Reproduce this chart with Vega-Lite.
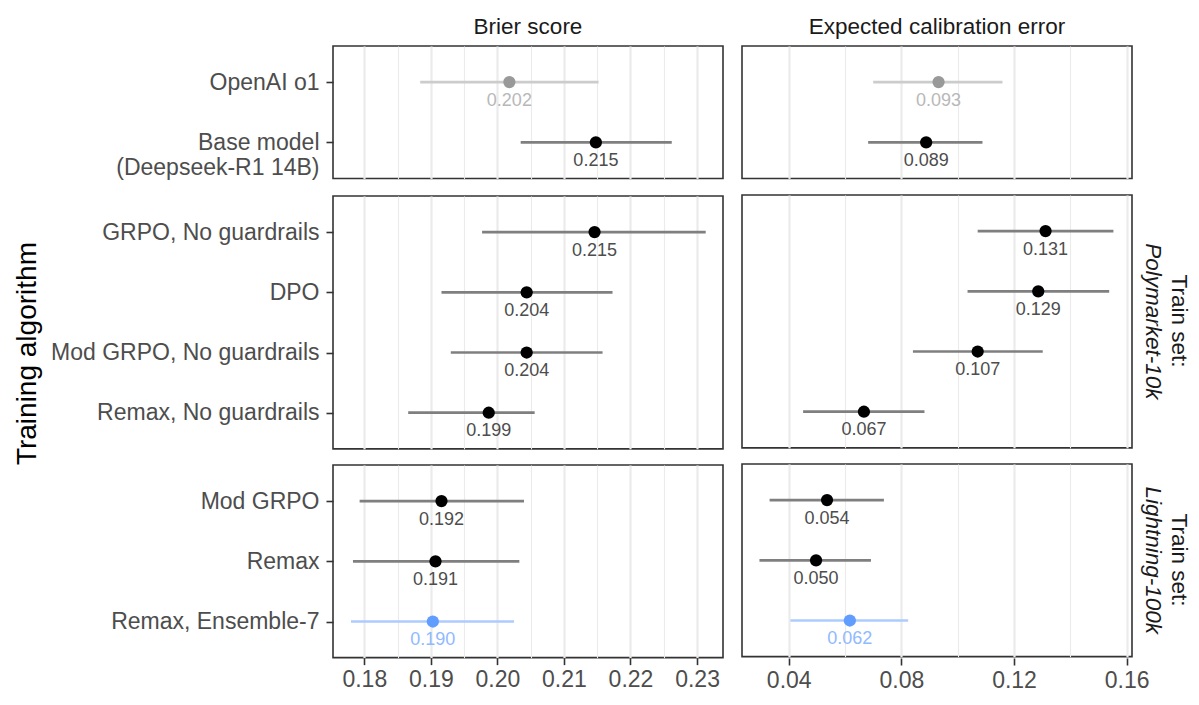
{
  "$schema": "https://vega.github.io/schema/vega-lite/v6.json",
  "background": "white",
  "padding": {"left": 14, "top": 14, "right": 5, "bottom": 5},
  "title": {"text": "Training algorithm", "orient": "left", "anchor": "middle", "fontSize": 28, "fontWeight": "normal", "color": "#000000", "offset": 6},
  "datasets": {
    "d": [
      {"set": "none", "algo": "OpenAI o1", "metric": "brier", "val": 0.2018, "lo": 0.1884, "hi": 0.2152, "grp": "o1"},
      {"set": "none", "algo": "Base model\n(Deepseek-R1 14B)", "metric": "brier", "val": 0.2148, "lo": 0.2035, "hi": 0.2262, "grp": "std"},
      {"set": "Polymarket-10k", "algo": "GRPO, No guardrails", "metric": "brier", "val": 0.2146, "lo": 0.1977, "hi": 0.2313, "grp": "std"},
      {"set": "Polymarket-10k", "algo": "DPO", "metric": "brier", "val": 0.2044, "lo": 0.1916, "hi": 0.2173, "grp": "std"},
      {"set": "Polymarket-10k", "algo": "Mod GRPO, No guardrails", "metric": "brier", "val": 0.2044, "lo": 0.193, "hi": 0.2158, "grp": "std"},
      {"set": "Polymarket-10k", "algo": "Remax, No guardrails", "metric": "brier", "val": 0.1987, "lo": 0.1866, "hi": 0.2056, "grp": "std"},
      {"set": "Lightning-100k", "algo": "Mod GRPO", "metric": "brier", "val": 0.1916, "lo": 0.1793, "hi": 0.204, "grp": "std"},
      {"set": "Lightning-100k", "algo": "Remax", "metric": "brier", "val": 0.1907, "lo": 0.1783, "hi": 0.2033, "grp": "std"},
      {"set": "Lightning-100k", "algo": "Remax, Ensemble-7", "metric": "brier", "val": 0.1903, "lo": 0.178, "hi": 0.2025, "grp": "ens"},
      {"set": "none", "algo": "OpenAI o1", "metric": "ece", "val": 0.0932, "lo": 0.07, "hi": 0.1159, "grp": "o1"},
      {"set": "none", "algo": "Base model\n(Deepseek-R1 14B)", "metric": "ece", "val": 0.0888, "lo": 0.0682, "hi": 0.1088, "grp": "std"},
      {"set": "Polymarket-10k", "algo": "GRPO, No guardrails", "metric": "ece", "val": 0.1312, "lo": 0.1071, "hi": 0.1553, "grp": "std"},
      {"set": "Polymarket-10k", "algo": "DPO", "metric": "ece", "val": 0.1286, "lo": 0.1035, "hi": 0.1538, "grp": "std"},
      {"set": "Polymarket-10k", "algo": "Mod GRPO, No guardrails", "metric": "ece", "val": 0.1071, "lo": 0.0841, "hi": 0.1302, "grp": "std"},
      {"set": "Polymarket-10k", "algo": "Remax, No guardrails", "metric": "ece", "val": 0.0667, "lo": 0.0451, "hi": 0.0882, "grp": "std"},
      {"set": "Lightning-100k", "algo": "Mod GRPO", "metric": "ece", "val": 0.0536, "lo": 0.0332, "hi": 0.0738, "grp": "std"},
      {"set": "Lightning-100k", "algo": "Remax", "metric": "ece", "val": 0.0497, "lo": 0.0296, "hi": 0.0692, "grp": "std"},
      {"set": "Lightning-100k", "algo": "Remax, Ensemble-7", "metric": "ece", "val": 0.0617, "lo": 0.0406, "hi": 0.0824, "grp": "ens"}
    ]
  },
  "hconcat": [
    {
      "vconcat": [
        {
          "data": {"name": "d"},
          "transform": [{"filter": "datum.metric === 'brier' && datum.set === 'none'"}],
          "title": {"text": "Brier score", "fontSize": 22.5, "fontWeight": "normal", "color": "#1A1A1A", "frame": "group", "anchor": "middle", "offset": 8},
          "width": 390,
          "height": {"step": 60.2},
          "encoding": {
            "y": {"field": "algo", "type": "nominal", "sort": null, "scale": {"type": "point", "padding": 0.6}, "axis": {"title": null, "minExtent": 284, "maxExtent": 284, "labelExpr": "split(datum.label, '\\n')", "labelLineHeight": 25, "labelPadding": 7, "grid": false, "labelLimit": 400}},
            "x": {"field": "val", "type": "quantitative", "title": null, "scale": {"domain": [0.1753, 0.2339], "nice": false, "zero": false}, "axis": {"values": [0.18, 0.185, 0.19, 0.195, 0.2, 0.205, 0.21, 0.215, 0.22, 0.225, 0.23], "labels": false, "ticks": false, "domain": false, "grid": true, "gridColor": "#EBEBEB", "gridWidth": {"condition": {"test": "abs(datum.value*100 - round(datum.value*100)) < 0.01", "value": 2.2}, "value": 1.1}, "title": null}}
          },
          "layer": [
            {"mark": {"type": "rule", "strokeWidth": 2.7}, "encoding": {"x": {"field": "lo", "type": "quantitative", "title": null, "axis": {"values": [0.18, 0.185, 0.19, 0.195, 0.2, 0.205, 0.21, 0.215, 0.22, 0.225, 0.23], "labels": false, "ticks": false, "domain": false, "grid": true, "gridColor": "#EBEBEB", "gridWidth": {"condition": {"test": "abs(datum.value*100 - round(datum.value*100)) < 0.01", "value": 2.2}, "value": 1.1}, "title": null}}, "x2": {"field": "hi"}, "color": {"condition": [{"test": "datum.grp === 'o1'", "value": "#CCCCCC"}, {"test": "datum.grp === 'ens'", "value": "#ADCBFF"}], "value": "#7F7F7F"}}},
            {"mark": {"type": "point", "filled": true, "size": 150, "opacity": 1}, "encoding": {"color": {"condition": [{"test": "datum.grp === 'o1'", "value": "#999999"}, {"test": "datum.grp === 'ens'", "value": "#619CFF"}], "value": "#000000"}}},
            {"mark": {"type": "text", "dy": 18.5, "fontSize": 18, "baseline": "middle"}, "encoding": {"text": {"field": "val", "type": "quantitative", "format": ".3f"}, "color": {"condition": [{"test": "datum.grp === 'o1'", "value": "#B8B8B8"}, {"test": "datum.grp === 'ens'", "value": "#90BAFF"}], "value": "#4D4D4D"}}}
          ]
        },
        {
          "data": {"name": "d"},
          "transform": [{"filter": "datum.metric === 'brier' && datum.set === 'Polymarket-10k'"}],
          "width": 390,
          "height": {"step": 60.2},
          "encoding": {
            "y": {"field": "algo", "type": "nominal", "sort": null, "scale": {"type": "point", "padding": 0.6}, "axis": {"title": null, "minExtent": 284, "maxExtent": 284, "labelExpr": "split(datum.label, '\\n')", "labelLineHeight": 25, "labelPadding": 7, "grid": false, "labelLimit": 400}},
            "x": {"field": "val", "type": "quantitative", "title": null, "scale": {"domain": [0.1753, 0.2339], "nice": false, "zero": false}, "axis": {"values": [0.18, 0.185, 0.19, 0.195, 0.2, 0.205, 0.21, 0.215, 0.22, 0.225, 0.23], "labels": false, "ticks": false, "domain": false, "grid": true, "gridColor": "#EBEBEB", "gridWidth": {"condition": {"test": "abs(datum.value*100 - round(datum.value*100)) < 0.01", "value": 2.2}, "value": 1.1}, "title": null}}
          },
          "layer": [
            {"mark": {"type": "rule", "strokeWidth": 2.7}, "encoding": {"x": {"field": "lo", "type": "quantitative", "title": null, "axis": {"values": [0.18, 0.185, 0.19, 0.195, 0.2, 0.205, 0.21, 0.215, 0.22, 0.225, 0.23], "labels": false, "ticks": false, "domain": false, "grid": true, "gridColor": "#EBEBEB", "gridWidth": {"condition": {"test": "abs(datum.value*100 - round(datum.value*100)) < 0.01", "value": 2.2}, "value": 1.1}, "title": null}}, "x2": {"field": "hi"}, "color": {"condition": [{"test": "datum.grp === 'o1'", "value": "#CCCCCC"}, {"test": "datum.grp === 'ens'", "value": "#ADCBFF"}], "value": "#7F7F7F"}}},
            {"mark": {"type": "point", "filled": true, "size": 150, "opacity": 1}, "encoding": {"color": {"condition": [{"test": "datum.grp === 'o1'", "value": "#999999"}, {"test": "datum.grp === 'ens'", "value": "#619CFF"}], "value": "#000000"}}},
            {"mark": {"type": "text", "dy": 18.5, "fontSize": 18, "baseline": "middle"}, "encoding": {"text": {"field": "val", "type": "quantitative", "format": ".3f"}, "color": {"condition": [{"test": "datum.grp === 'o1'", "value": "#B8B8B8"}, {"test": "datum.grp === 'ens'", "value": "#90BAFF"}], "value": "#4D4D4D"}}}
          ]
        },
        {
          "data": {"name": "d"},
          "transform": [{"filter": "datum.metric === 'brier' && datum.set === 'Lightning-100k'"}],
          "width": 390,
          "height": {"step": 60.2},
          "encoding": {
            "y": {"field": "algo", "type": "nominal", "sort": null, "scale": {"type": "point", "padding": 0.6}, "axis": {"title": null, "minExtent": 284, "maxExtent": 284, "labelExpr": "split(datum.label, '\\n')", "labelLineHeight": 25, "labelPadding": 7, "grid": false, "labelLimit": 400}},
            "x": {"field": "val", "type": "quantitative", "title": null, "scale": {"domain": [0.1753, 0.2339], "nice": false, "zero": false}, "axis": {"values": [0.18, 0.185, 0.19, 0.195, 0.2, 0.205, 0.21, 0.215, 0.22, 0.225, 0.23], "labelExpr": "abs(datum.value*100 - round(datum.value*100)) < 0.01 ? format(datum.value, '.2f') : ''", "labelFlush": false, "labelOverlap": false, "labelPadding": 4, "tickOpacity": {"condition": {"test": "abs(datum.value*100 - round(datum.value*100)) < 0.01", "value": 1}, "value": 0}, "domain": false, "grid": true, "gridColor": "#EBEBEB", "gridWidth": {"condition": {"test": "abs(datum.value*100 - round(datum.value*100)) < 0.01", "value": 2.2}, "value": 1.1}, "title": null}}
          },
          "layer": [
            {"mark": {"type": "rule", "strokeWidth": 2.7}, "encoding": {"x": {"field": "lo", "type": "quantitative", "title": null, "axis": {"values": [0.18, 0.185, 0.19, 0.195, 0.2, 0.205, 0.21, 0.215, 0.22, 0.225, 0.23], "labelExpr": "abs(datum.value*100 - round(datum.value*100)) < 0.01 ? format(datum.value, '.2f') : ''", "labelFlush": false, "labelOverlap": false, "labelPadding": 4, "tickOpacity": {"condition": {"test": "abs(datum.value*100 - round(datum.value*100)) < 0.01", "value": 1}, "value": 0}, "domain": false, "grid": true, "gridColor": "#EBEBEB", "gridWidth": {"condition": {"test": "abs(datum.value*100 - round(datum.value*100)) < 0.01", "value": 2.2}, "value": 1.1}, "title": null}}, "x2": {"field": "hi"}, "color": {"condition": [{"test": "datum.grp === 'o1'", "value": "#CCCCCC"}, {"test": "datum.grp === 'ens'", "value": "#ADCBFF"}], "value": "#7F7F7F"}}},
            {"mark": {"type": "point", "filled": true, "size": 150, "opacity": 1}, "encoding": {"color": {"condition": [{"test": "datum.grp === 'o1'", "value": "#999999"}, {"test": "datum.grp === 'ens'", "value": "#619CFF"}], "value": "#000000"}}},
            {"mark": {"type": "text", "dy": 18.5, "fontSize": 18, "baseline": "middle"}, "encoding": {"text": {"field": "val", "type": "quantitative", "format": ".3f"}, "color": {"condition": [{"test": "datum.grp === 'o1'", "value": "#B8B8B8"}, {"test": "datum.grp === 'ens'", "value": "#90BAFF"}], "value": "#4D4D4D"}}}
          ]
        }
      ],
      "spacing": 14,
      "resolve": {"scale": {"y": "independent"}}
    },
    {
      "vconcat": [
        {
          "data": {"name": "d"},
          "transform": [{"filter": "datum.metric === 'ece' && datum.set === 'none'"}],
          "title": {"text": "Expected calibration error", "fontSize": 22.5, "fontWeight": "normal", "color": "#1A1A1A", "frame": "group", "anchor": "middle", "offset": 8},
          "width": 390,
          "height": {"step": 60.2},
          "encoding": {
            "y": {"field": "algo", "type": "nominal", "sort": null, "scale": {"type": "point", "padding": 0.6}, "axis": null},
            "x": {"field": "val", "type": "quantitative", "title": null, "scale": {"domain": [0.0234, 0.1619], "nice": false, "zero": false}, "axis": {"values": [0.04, 0.06, 0.08, 0.1, 0.12, 0.14, 0.16], "labels": false, "ticks": false, "domain": false, "grid": true, "gridColor": "#EBEBEB", "gridWidth": {"condition": {"test": "round(datum.value*100) % 4 === 0", "value": 2.2}, "value": 1.1}, "title": null}}
          },
          "layer": [
            {"mark": {"type": "rule", "strokeWidth": 2.7}, "encoding": {"x": {"field": "lo", "type": "quantitative", "title": null, "axis": {"values": [0.04, 0.06, 0.08, 0.1, 0.12, 0.14, 0.16], "labels": false, "ticks": false, "domain": false, "grid": true, "gridColor": "#EBEBEB", "gridWidth": {"condition": {"test": "round(datum.value*100) % 4 === 0", "value": 2.2}, "value": 1.1}, "title": null}}, "x2": {"field": "hi"}, "color": {"condition": [{"test": "datum.grp === 'o1'", "value": "#CCCCCC"}, {"test": "datum.grp === 'ens'", "value": "#ADCBFF"}], "value": "#7F7F7F"}}},
            {"mark": {"type": "point", "filled": true, "size": 150, "opacity": 1}, "encoding": {"color": {"condition": [{"test": "datum.grp === 'o1'", "value": "#999999"}, {"test": "datum.grp === 'ens'", "value": "#619CFF"}], "value": "#000000"}}},
            {"mark": {"type": "text", "dy": 18.5, "fontSize": 18, "baseline": "middle"}, "encoding": {"text": {"field": "val", "type": "quantitative", "format": ".3f"}, "color": {"condition": [{"test": "datum.grp === 'o1'", "value": "#B8B8B8"}, {"test": "datum.grp === 'ens'", "value": "#90BAFF"}], "value": "#4D4D4D"}}}
          ]
        },
        {
          "data": {"name": "d"},
          "transform": [{"filter": "datum.metric === 'ece' && datum.set === 'Polymarket-10k'"}],
          "facet": {"row": {"field": "set", "type": "nominal", "title": "Train set:"}},
          "spec": {
            "width": 390,
            "height": {"step": 60.2},
            "encoding": {
              "y": {"field": "algo", "type": "nominal", "sort": null, "scale": {"type": "point", "padding": 0.6}, "axis": null},
              "x": {"field": "val", "type": "quantitative", "title": null, "scale": {"domain": [0.0234, 0.1619], "nice": false, "zero": false}, "axis": {"values": [0.04, 0.06, 0.08, 0.1, 0.12, 0.14, 0.16], "labels": false, "ticks": false, "domain": false, "grid": true, "gridColor": "#EBEBEB", "gridWidth": {"condition": {"test": "round(datum.value*100) % 4 === 0", "value": 2.2}, "value": 1.1}, "title": null}}
            },
            "layer": [
              {"mark": {"type": "rule", "strokeWidth": 2.7}, "encoding": {"x": {"field": "lo", "type": "quantitative", "title": null, "axis": {"values": [0.04, 0.06, 0.08, 0.1, 0.12, 0.14, 0.16], "labels": false, "ticks": false, "domain": false, "grid": true, "gridColor": "#EBEBEB", "gridWidth": {"condition": {"test": "round(datum.value*100) % 4 === 0", "value": 2.2}, "value": 1.1}, "title": null}}, "x2": {"field": "hi"}, "color": {"condition": [{"test": "datum.grp === 'o1'", "value": "#CCCCCC"}, {"test": "datum.grp === 'ens'", "value": "#ADCBFF"}], "value": "#7F7F7F"}}},
              {"mark": {"type": "point", "filled": true, "size": 150, "opacity": 1}, "encoding": {"color": {"condition": [{"test": "datum.grp === 'o1'", "value": "#999999"}, {"test": "datum.grp === 'ens'", "value": "#619CFF"}], "value": "#000000"}}},
              {"mark": {"type": "text", "dy": 18.5, "fontSize": 18, "baseline": "middle"}, "encoding": {"text": {"field": "val", "type": "quantitative", "format": ".3f"}, "color": {"condition": [{"test": "datum.grp === 'o1'", "value": "#B8B8B8"}, {"test": "datum.grp === 'ens'", "value": "#90BAFF"}], "value": "#4D4D4D"}}}
            ]
          }
        },
        {
          "data": {"name": "d"},
          "transform": [{"filter": "datum.metric === 'ece' && datum.set === 'Lightning-100k'"}],
          "facet": {"row": {"field": "set", "type": "nominal", "title": "Train set:"}},
          "spec": {
            "width": 390,
            "height": {"step": 60.2},
            "encoding": {
              "y": {"field": "algo", "type": "nominal", "sort": null, "scale": {"type": "point", "padding": 0.6}, "axis": null},
              "x": {"field": "val", "type": "quantitative", "title": null, "scale": {"domain": [0.0234, 0.1619], "nice": false, "zero": false}, "axis": {"values": [0.04, 0.06, 0.08, 0.1, 0.12, 0.14, 0.16], "labelExpr": "round(datum.value*100) % 4 === 0 ? format(datum.value, '.2f') : ''", "labelFlush": false, "labelOverlap": false, "labelPadding": 4, "tickOpacity": {"condition": {"test": "round(datum.value*100) % 4 === 0", "value": 1}, "value": 0}, "domain": false, "grid": true, "gridColor": "#EBEBEB", "gridWidth": {"condition": {"test": "round(datum.value*100) % 4 === 0", "value": 2.2}, "value": 1.1}, "title": null}}
            },
            "layer": [
              {"mark": {"type": "rule", "strokeWidth": 2.7}, "encoding": {"x": {"field": "lo", "type": "quantitative", "title": null, "axis": {"values": [0.04, 0.06, 0.08, 0.1, 0.12, 0.14, 0.16], "labelExpr": "round(datum.value*100) % 4 === 0 ? format(datum.value, '.2f') : ''", "labelFlush": false, "labelOverlap": false, "labelPadding": 4, "tickOpacity": {"condition": {"test": "round(datum.value*100) % 4 === 0", "value": 1}, "value": 0}, "domain": false, "grid": true, "gridColor": "#EBEBEB", "gridWidth": {"condition": {"test": "round(datum.value*100) % 4 === 0", "value": 2.2}, "value": 1.1}, "title": null}}, "x2": {"field": "hi"}, "color": {"condition": [{"test": "datum.grp === 'o1'", "value": "#CCCCCC"}, {"test": "datum.grp === 'ens'", "value": "#ADCBFF"}], "value": "#7F7F7F"}}},
              {"mark": {"type": "point", "filled": true, "size": 150, "opacity": 1}, "encoding": {"color": {"condition": [{"test": "datum.grp === 'o1'", "value": "#999999"}, {"test": "datum.grp === 'ens'", "value": "#619CFF"}], "value": "#000000"}}},
              {"mark": {"type": "text", "dy": 18.5, "fontSize": 18, "baseline": "middle"}, "encoding": {"text": {"field": "val", "type": "quantitative", "format": ".3f"}, "color": {"condition": [{"test": "datum.grp === 'o1'", "value": "#B8B8B8"}, {"test": "datum.grp === 'ens'", "value": "#90BAFF"}], "value": "#4D4D4D"}}}
            ]
          }
        }
      ],
      "spacing": 14,
      "resolve": {"scale": {"y": "independent"}}
    }
  ],
  "spacing": 17,
  "resolve": {"scale": {"x": "independent", "y": "independent"}},
  "config": {
    "font": "Liberation Sans",
    "view": {"stroke": "#333333", "strokeWidth": 1.6},
    "axis": {"labelFont": "Liberation Sans", "labelFontSize": 23, "labelColor": "#4D4D4D", "tickColor": "#333333", "tickWidth": 1.6, "tickSize": 7, "domain": false, "labelLimit": 400},
    "header": {"labelOrient": "right", "titleOrient": "right", "labelAngle": 90, "titleAngle": 90, "labelFontSize": 22.5, "titleFontSize": 22.5, "labelFontStyle": "italic", "titleFontWeight": "normal", "labelColor": "#1A1A1A", "titleColor": "#1A1A1A", "labelPadding": 8, "titlePadding": -7, "titleAnchor": "middle", "titleAlign": "center", "labelLimit": 300, "labelFont": "Liberation Sans", "titleFont": "Liberation Sans"}
  }
}
